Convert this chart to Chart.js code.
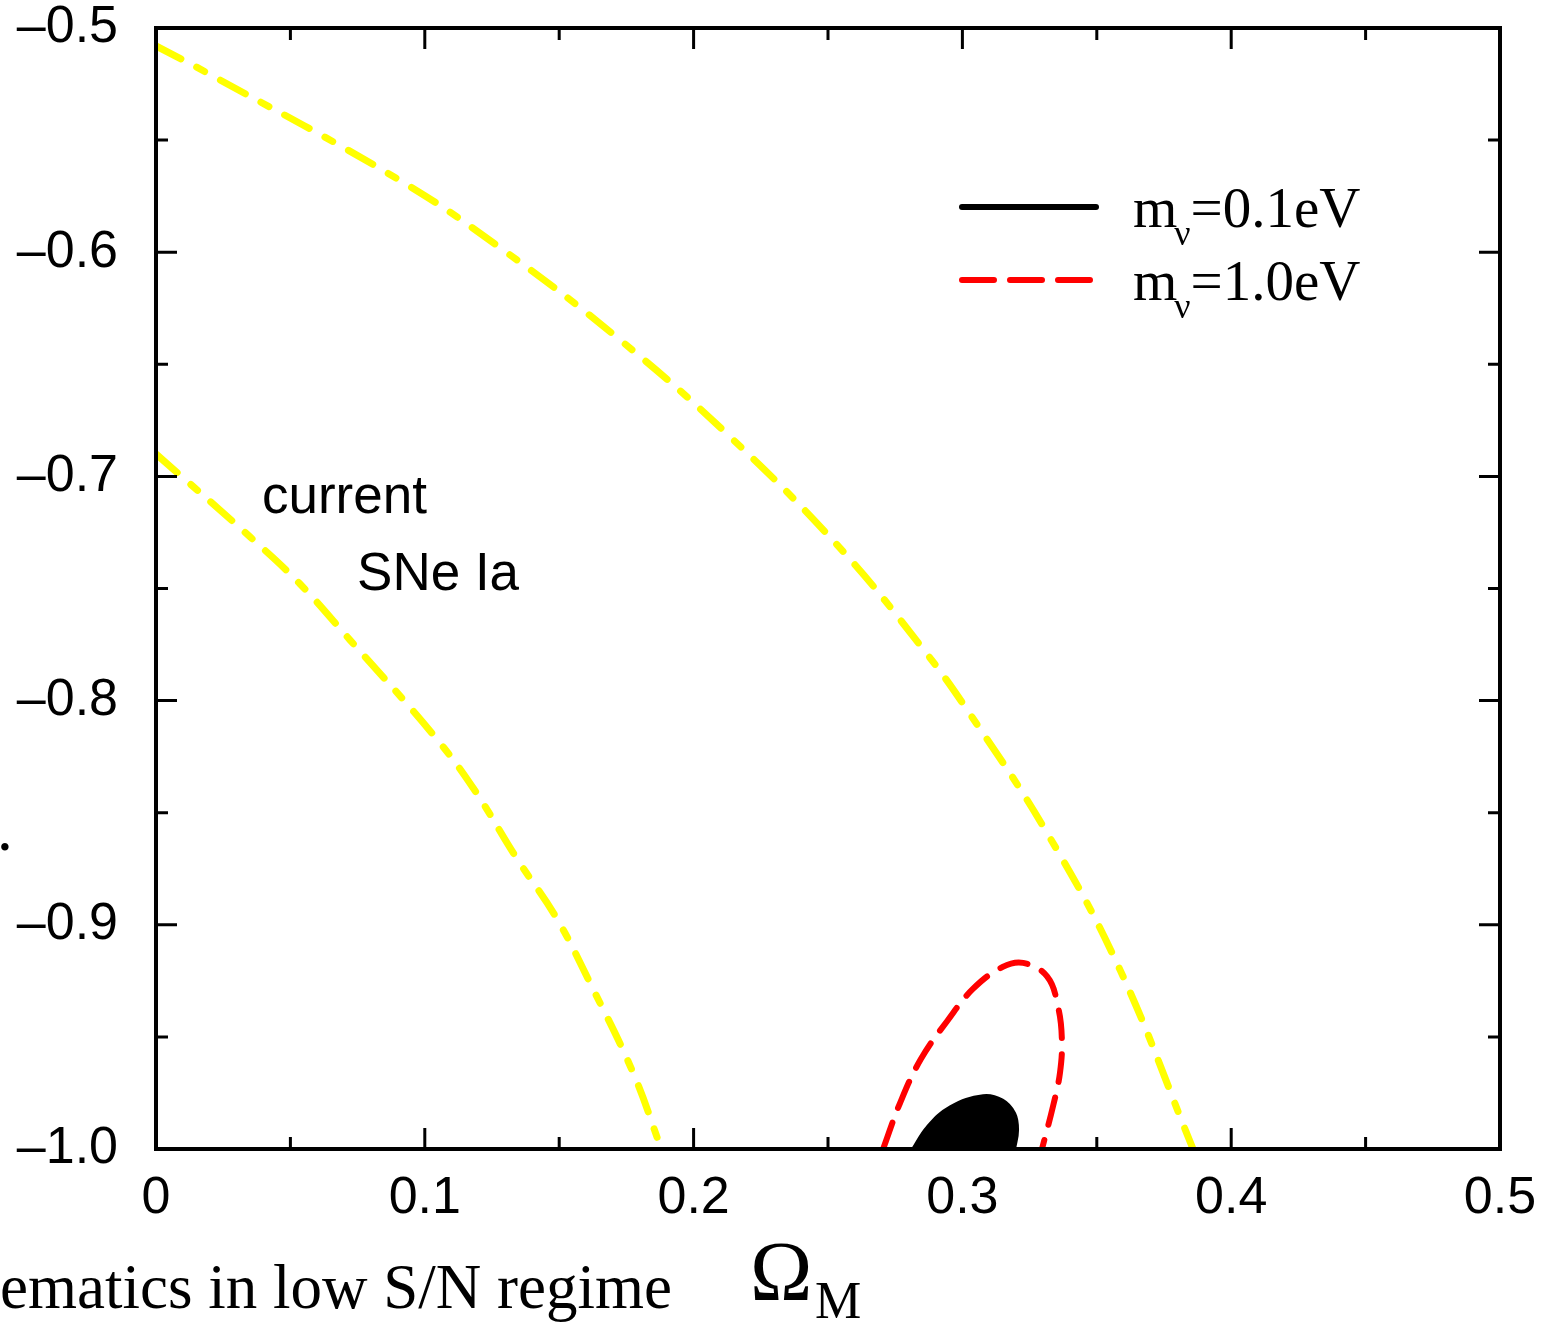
<!DOCTYPE html>
<html>
<head>
<meta charset="utf-8">
<script src="https://cdn.jsdelivr.net/npm/chart.js@4.4.1/dist/chart.umd.min.js"></script>
<style>
  html, body { margin: 0; padding: 0; background: #fff; }
  #wrap { width: 1560px; height: 1324px; }
</style>
</head>
<body>
<div id="wrap"><canvas id="chart" width="1560" height="1324"></canvas></div>
<script>
// Current SNe Ia band, outer and inner edges (Omega_M, w)
const outerOmega = [0, 0.019, 0.0908, 0.128, 0.1715, 0.2124, 0.2545, 0.2854, 0.3017, 0.3315, 0.3586, 0.3858];
const outerW     = [-0.508, -0.520, -0.568, -0.598, -0.638, -0.681, -0.732, -0.777, -0.804, -0.859, -0.920, -1.0];
const innerOmega = [0, 0.035, 0.0536, 0.0722, 0.103, 0.118, 0.134, 0.149, 0.1615, 0.1775, 0.188];
const innerW     = [-0.690, -0.727, -0.748, -0.773, -0.815, -0.839, -0.870, -0.897, -0.926, -0.966, -1.0];

// m_nu = 1.0 eV contour
const redOmega = [0.2705, 0.2768, 0.2845, 0.2943, 0.304, 0.315, 0.3226, 0.3315, 0.3356, 0.337, 0.3363, 0.3337, 0.3296];
const redW     = [-1.0, -0.9795, -0.960, -0.9430, -0.9285, -0.9188, -0.917, -0.923, -0.9367, -0.951, -0.966, -0.981, -1.0];

// m_nu = 0.1 eV contour (filled)
const blackOmega = [0.2813, 0.2868, 0.2954, 0.3077, 0.315, 0.3196, 0.3207, 0.3196];
const blackW     = [-1.0, -0.990, -0.981, -0.976, -0.978, -0.984, -0.9915, -1.0];

const xTicks = [0, 0.1, 0.2, 0.3, 0.4, 0.5];
const yTicks = [-1.0, -0.9, -0.8, -0.7, -0.6, -0.5];

const legendLabels = ['0.1eV', '1.0eV'];

const toPoints = (xs, ys) => xs.map((x, i) => ({ x, y: ys[i] }));

const SANS = '"Liberation Sans", Arial, sans-serif';
const SERIF = '"Liberation Serif", "Times New Roman", serif';

// frame, inward ticks on all four sides, legend and loose text
const decorations = {
    id: 'decorations',
    afterDraw(chart) {
        const { ctx, chartArea: a, scales: { x, y } } = chart;
        ctx.save();
        ctx.strokeStyle = '#000';
        ctx.lineWidth = 3;
        ctx.lineCap = 'butt';

        // ticks: major every 0.1, minor every 0.05
        for (let k = 0; k <= 10; k++) {
            const v = k * 0.05;
            const len = k % 2 === 0 ? 21 : 12;
            const px = x.getPixelForValue(v);
            ctx.beginPath();
            ctx.moveTo(px, a.bottom); ctx.lineTo(px, a.bottom - len);
            ctx.moveTo(px, a.top); ctx.lineTo(px, a.top + len);
            ctx.stroke();
        }
        for (let k = 0; k <= 10; k++) {
            const v = -1 + k * 0.05;
            const len = k % 2 === 0 ? 21 : 12;
            const py = y.getPixelForValue(v);
            ctx.beginPath();
            ctx.moveTo(a.left, py); ctx.lineTo(a.left + len, py);
            ctx.moveTo(a.right, py); ctx.lineTo(a.right - len, py);
            ctx.stroke();
        }

        // frame
        ctx.lineWidth = 4;
        ctx.strokeRect(a.left, a.top, a.right - a.left, a.bottom - a.top);

        // legend
        const lx0 = a.left + 806, lx1 = a.left + 940;
        ctx.lineCap = 'round';
        ctx.lineWidth = 6;
        ctx.strokeStyle = '#000';
        ctx.beginPath(); ctx.moveTo(lx0, 207); ctx.lineTo(lx1, 207); ctx.stroke();
        ctx.strokeStyle = '#ff0000';
        ctx.setLineDash([32, 16]);
        ctx.beginPath(); ctx.moveTo(lx0, 280); ctx.lineTo(lx1 - 4, 280); ctx.stroke();
        ctx.setLineDash([]);

        ctx.fillStyle = '#000';
        ctx.textBaseline = 'alphabetic';
        ctx.textAlign = 'left';
        [227, 300].forEach((base, i) => {
            let tx = 1133;
            ctx.font = '57px ' + SERIF;
            ctx.fillText('m', tx, base);
            tx += ctx.measureText('m').width;
            ctx.font = '36px ' + SERIF;
            ctx.fillText('ν', tx - 3, base + 18);
            tx += ctx.measureText('ν').width - 3;
            ctx.font = '57px ' + SERIF;
            ctx.fillText('=' + legendLabels[i], tx, base);
        });

        // annotation
        ctx.font = '53px ' + SANS;
        ctx.fillText('current', x.getPixelForValue(0.0394), y.getPixelForValue(-0.7163));
        ctx.fillText('SNe Ia', x.getPixelForValue(0.0748), y.getPixelForValue(-0.7507));

        // axis title
        ctx.font = '84px ' + SERIF;
        ctx.fillText('Ω', 750, 1300);
        ctx.font = '52px ' + SERIF;
        ctx.fillText('M', 815, 1318);

        // slide text cut off at the edges
        ctx.font = '63px ' + SERIF;
        ctx.fillText('ematics in low S/N regime', 0, 1308);
        ctx.fillText('.', -3, 850);
        ctx.restore();
    }
};

new Chart(document.getElementById('chart'), {
    type: 'scatter',
    data: {
        datasets: [
            {
                data: toPoints(outerOmega, outerW),
                showLine: true, pointRadius: 0, tension: 0.4,
                borderColor: '#ffff00', borderWidth: 7,
                borderCapStyle: 'round', borderDash: [28, 18, 9, 18]
            },
            {
                data: toPoints(innerOmega, innerW),
                showLine: true, pointRadius: 0, tension: 0.4,
                borderColor: '#ffff00', borderWidth: 7,
                borderCapStyle: 'round', borderDash: [28, 18, 9, 18]
            },
            {
                data: toPoints(redOmega, redW),
                showLine: true, pointRadius: 0, tension: 0.4,
                borderColor: '#ff0000', borderWidth: 6,
                borderCapStyle: 'round', borderDash: [28, 16]
            },
            {
                data: toPoints(blackOmega, blackW),
                showLine: true, pointRadius: 0, tension: 0.4,
                borderColor: '#000', borderWidth: 2,
                backgroundColor: '#000', fill: 'shape'
            }
        ]
    },
    options: {
        responsive: false,
        devicePixelRatio: 1,
        animation: false,
        layout: { padding: { top: 28, right: 60, left: 0, bottom: 0 } },
        plugins: {
            legend: { display: false },
            tooltip: { enabled: false }
        },
        scales: {
            x: {
                type: 'linear', min: 0, max: 0.5,
                grid: { display: false, drawTicks: false },
                border: { display: false },
                afterBuildTicks: s => { s.ticks = xTicks.map(v => ({ value: v })); },
                afterFit: s => { s.height = 175; s.paddingLeft = 0; s.paddingRight = 0; },
                ticks: {
                    color: '#000', padding: 24, maxRotation: 0,
                    font: { family: SANS, size: 52, lineHeight: 1 },
                    callback: v => v === 0 ? '0' : (+v).toFixed(1)
                }
            },
            y: {
                type: 'linear', min: -1, max: -0.5,
                grid: { display: false, drawTicks: false },
                border: { display: false },
                afterBuildTicks: s => { s.ticks = yTicks.map(v => ({ value: v })); },
                afterFit: s => { s.width = 156; s.paddingTop = 0; s.paddingBottom = 0; },
                ticks: {
                    color: '#000', padding: 38,
                    font: { family: SANS, size: 52, lineHeight: 1 },
                    callback: v => '\u2013' + Math.abs(v).toFixed(1)
                }
            }
        }
    },
    plugins: [decorations]
});
</script>
</body>
</html>
